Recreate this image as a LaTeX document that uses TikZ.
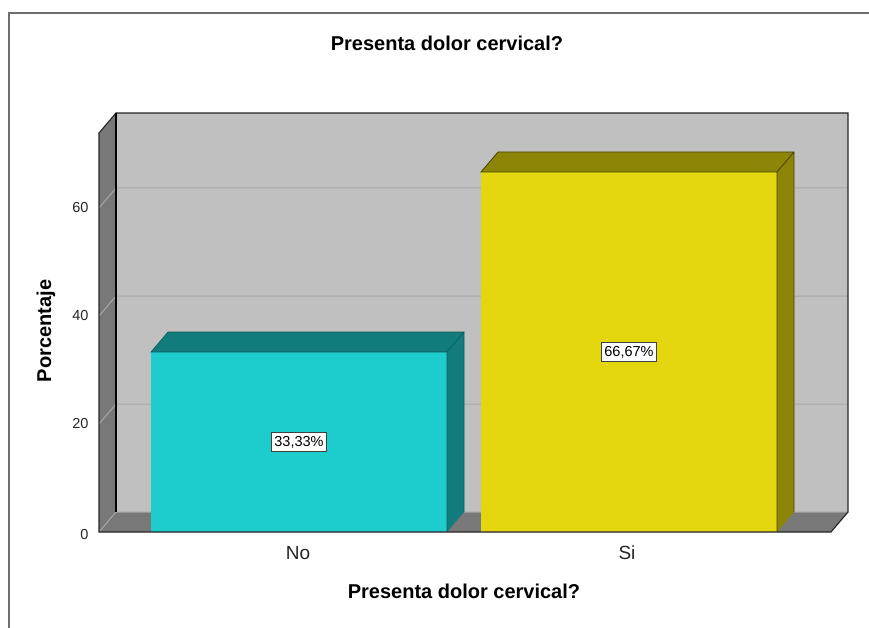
\documentclass[tikz,border=0pt]{standalone}
\usepackage{fontspec}
\setmainfont{Liberation Sans}
\definecolor{wallback}{RGB}{192,192,192}
\definecolor{walldark}{RGB}{120,120,120}
\definecolor{gridc}{RGB}{168,168,168}
\definecolor{cyanf}{RGB}{29,205,205}
\definecolor{cyand}{RGB}{18,124,124}
\definecolor{cyane}{RGB}{10,90,90}
\definecolor{yelf}{RGB}{227,214,15}
\definecolor{yeld}{RGB}{140,133,8}
\definecolor{yele}{RGB}{70,66,0}
\definecolor{framec}{RGB}{110,110,110}
\newcommand{\drawbarbox}[5]{%
  % #1 x1, #2 x2, #3 ytop, #4 front colour, #5 dark colour
  \fill[#5] (#1,#3) -- (#1+17,#3-20) -- (#2+17,#3-20) -- (#2,#3) -- cycle;
  \fill[#5] (#2,#3) -- (#2+17,#3-20) -- (#2+17,512) -- (#2,532) -- cycle;
  \fill[#4] (#1,532) rectangle (#2,#3);
}
\tikzset{
  ticklbl/.style={anchor=east, font=\fontsize{14.5}{16}\selectfont, text=black!85},
  titlelbl/.style={font=\fontsize{20}{24}\selectfont\bfseries},
  catlbl/.style={font=\fontsize{19}{22}\selectfont, text=black!85},
  vallbl/.style={draw=black!75, line width=1.6pt, fill=white, inner xsep=3pt, inner ysep=3.5pt, font=\fontsize{14.5}{16}\selectfont},
  gridln/.style={draw=gridc, line width=1pt},
}
\begin{document}
\begin{tikzpicture}[x=1pt,y=-1pt]
\useasboundingbox (0,0) rectangle (869,628);
\fill[white] (0,0) rectangle (869,628);
% outer frame
\draw[framec, line width=1.2pt] (9,628) -- (9,13) -- (869,13);
% back wall, left wall, floor
\fill[wallback] (116,113) rectangle (848,512);
\fill[walldark] (99,133) -- (116,113) -- (116,512) -- (99,532) -- cycle;
\fill[walldark] (99,532) -- (116,512) -- (848,512) -- (831,532) -- cycle;
% grid lines
\foreach \v in {20,40,60} {
  \draw[gridln] (99,{532-5.4*\v}) -- (116,{512-5.4*\v}) -- (848,{512-5.4*\v});
}
\draw[gridln] (99,532) -- (116,512) -- (848,512);
% bars
\drawbarbox{151}{447}{352}{cyanf}{cyand}
\drawbarbox{481}{777}{172}{yelf}{yeld}
% bar edges
\draw[cyane, line width=0.6pt] (151,352) -- (168,332) -- (464,332) -- (447,352) -- cycle (447,352) -- (447,532) (464,332) -- (464,512);
\draw[yele, line width=0.8pt] (481,172) -- (498,152) -- (794,152) -- (777,172) -- cycle (777,172) -- (777,532) (794,152) -- (794,512);
% box edges
\draw[black!85, line width=1.1pt] (99,532) -- (99,133) -- (116,113) -- (848,113) -- (848,512) -- (831,532) -- cycle;
\draw[black, line width=1.1pt] (116,113) -- (116,512);
% tick labels
\node[ticklbl] (t0) at (92,535) {0};
\node[ticklbl] (t20) at (92,424) {20};
\node[ticklbl] (t40) at (92,316) {40};
\node[ticklbl] (t60) at (92,208) {60};
% value labels
\node[vallbl] (v1) at (299,442) {33,33\%};
\node[vallbl] (v2) at (629,352) {66,67\%};
% category labels
\node[catlbl] (cno) at (298,553) {No};
\node[catlbl] (csi) at (627,553) {Si};
% titles
\node[titlelbl] (title) at (447,43) {Presenta dolor cervical?};
\node[titlelbl] (xtitle) at (464,591) {Presenta dolor cervical?};
\node[titlelbl, rotate=90] (ytitle) at (46,331) {Porcentaje};
\end{tikzpicture}
\end{document}
